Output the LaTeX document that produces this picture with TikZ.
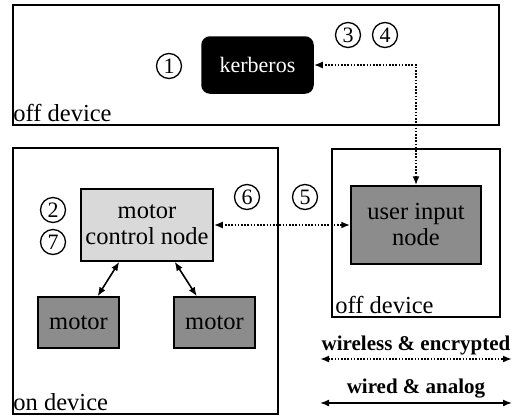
\documentclass[tikz,border=0pt]{standalone}
\usepackage{fontspec}
\setmainfont{Liberation Serif}
\usetikzlibrary{arrows.meta,positioning}
\definecolor{lightnode}{gray}{0.85}
\definecolor{darknode}{gray}{0.55}

\begin{document}
\begin{tikzpicture}[
			x = 1pt, y = -1pt,
			every node/.style = {font = \fontsize{24.5}{26}\selectfont},
			region/.style = {draw, line width = 1.5pt, inner sep = 0pt},
			regionlbl/.style = {anchor = south west, inner sep = 0pt, xshift = 1pt, yshift = 4pt},
			box/.style = {draw, line width = 1.5pt, align = center, inner sep = 0pt},
			stepnum/.style = {draw, circle, line width = 1.3pt, minimum size = 25pt, inner sep = 0pt, font = \fontsize{22}{22}\selectfont},
			wire/.style = {line width = 1.6pt, {Latex[length=9pt,width=7pt]}-{Latex[length=9pt,width=7pt]}},
			wireless/.style = {wire, line width = 2pt, dash pattern = on 1.6pt off 1.6pt}
			]

			\useasboundingbox (0,0) rectangle (517,416);

			% regions
			\node[region, minimum width = 486pt, minimum height = 120pt] (offtop) at (256,65) {};
			\node[region, minimum width = 265pt, minimum height = 266pt] (ondev) at (145.5,281) {};
			\node[region, minimum width = 168pt, minimum height = 168pt] (offright) at (416,233) {};
			\node[regionlbl] (offtoplbl) at (offtop.south west) {off device};
			\node[regionlbl] (ondevlbl) at (ondev.south west) {on device};
			\node[regionlbl, xshift = 3pt] (offrightlbl) at (offright.south west) {off device};

			% nodes
			\node[box, fill = black, text = white, rounded corners = 8pt, minimum width = 111pt, minimum height = 56pt, font = \fontsize{22}{23}\selectfont] (kerberos) at (257.5,65) {kerberos};
			\node[box, fill = lightnode, minimum width = 132pt, minimum height = 72pt] (motorctl) at (147,225) {motor\\control node};
			\node[box, fill = darknode, minimum width = 130pt, minimum height = 78pt] (userinput) at (416,225) {user input\\node};
			\node[box, fill = darknode, minimum width = 81pt, minimum height = 51pt] (motorleft) at (78.5,322.5) {motor};
			\node[box, fill = darknode, minimum width = 81pt, minimum height = 51pt] (motorright) at (214.5,322.5) {motor};

			% step numbers
			\node[stepnum] (s1) at (169,66) {1};
			\node[stepnum] (s2) at (53,210) {2};
			\node[stepnum] (s3) at (348,35) {3};
			\node[stepnum] (s4) at (385,35) {4};
			\node[stepnum] (s5) at (305,197) {5};
			\node[stepnum] (s6) at (247,197) {6};
			\node[stepnum] (s7) at (53,242) {7};

			% links
			\draw[wireless] (kerberos) -| (userinput);
			\draw[wireless] (motorctl) -- (userinput);
			\draw[wire] (motorctl.233) -- (motorleft.54);
			\draw[wire] (motorctl.307) -- (motorright.124);

			% legend
			\node[font = \fontsize{21}{22}\selectfont\bfseries] (wirelesslbl) at (416,345) {wireless \& encrypted};
			\node[font = \fontsize{21}{22}\selectfont\bfseries] (wiredlbl) at (416,389) {wired \& analog};
			\coordinate (wirelessl) at (320,359);
			\coordinate (wirelessr) at (512,359);
			\coordinate (wiredl) at (320,403);
			\coordinate (wiredr) at (512,403);
			\draw[wireless] (wirelessl) -- (wirelessr);
			\draw[wire] (wiredl) -- (wiredr);

		\end{tikzpicture}
\end{document}
